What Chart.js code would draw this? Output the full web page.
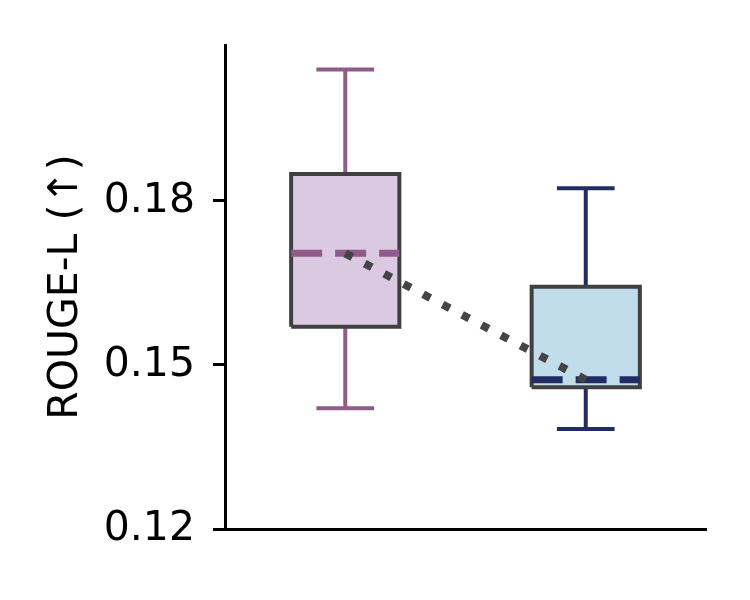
<!DOCTYPE html>
<html>
<head>
<meta charset="utf-8">
<script src="https://cdn.jsdelivr.net/npm/chart.js@4"></script>
<style>
  body { margin: 0; background: #fff; }
</style>
</head>
<body>
<canvas id="chart" width="750" height="600"></canvas>
<script>
// two methods, box plot stats
const groups = ["Method A", "Method B"];
const whiskerLow = [0.1421, 0.1383];
const boxLow = [0.1570, 0.1459];
const medians = [0.1704, 0.1473];
const boxHigh = [0.1849, 0.1643];
const whiskerHigh = [0.2040, 0.1823];
const yTicks = [0.12, 0.15, 0.18];

const lineColors = ["#8e5b8a", "#232c62"];
const fillColors = ["#dbc9e2", "#c1dcea"];
const edgeColor = "#404040";
const boxHalf = 0.225;
const capHalf = 0.12;

Chart.defaults.font.family = "'DejaVu Sans', sans-serif";
Chart.defaults.elements.point.radius = 0;
Chart.defaults.elements.point.hoverRadius = 0;

function seg(x1, y1, x2, y2) {
    return [{ x: x1, y: y1 }, { x: x2, y: y2 }];
}

const datasets = [];

// dotted line joining the medians
datasets.push({
    type: "line",
    data: groups.map((g, i) => ({ x: i, y: medians[i] })),
    borderColor: "#444444",
    borderWidth: 8,
    borderDash: [8, 14],
    fill: false,
    order: 0
});

groups.forEach(function(g, i) {
    // median, dashed
    datasets.push({
        type: "line",
        data: seg(i - boxHalf, medians[i], i + boxHalf, medians[i]),
        borderColor: lineColors[i],
        borderWidth: 7,
        borderDash: [31, 13],
        fill: false,
        order: 1
    });
    // box outline
    datasets.push({
        type: "line",
        data: [
            { x: i - boxHalf, y: boxLow[i] },
            { x: i + boxHalf, y: boxLow[i] },
            { x: i + boxHalf, y: boxHigh[i] },
            { x: i - boxHalf, y: boxHigh[i] },
            { x: i - boxHalf, y: boxLow[i] }
        ],
        borderColor: edgeColor,
        borderWidth: 4,
        borderJoinStyle: "miter",
        fill: false,
        order: 2
    });
    // whiskers and caps
    [
        seg(i, whiskerLow[i], i, boxLow[i]),
        seg(i, boxHigh[i], i, whiskerHigh[i]),
        seg(i - capHalf, whiskerLow[i], i + capHalf, whiskerLow[i]),
        seg(i - capHalf, whiskerHigh[i], i + capHalf, whiskerHigh[i])
    ].forEach(function(d) {
        datasets.push({
            type: "line",
            data: d,
            borderColor: lineColors[i],
            borderWidth: 4,
            fill: false,
            order: 3
        });
    });
});

// box fill
datasets.push({
    type: "bar",
    data: groups.map((g, i) => ({ x: i, y: [boxLow[i], boxHigh[i]] })),
    backgroundColor: fillColors,
    borderWidth: 0,
    barThickness: 108,
    order: 4
});

new Chart(document.getElementById("chart"), {
    type: "line",
    data: { datasets: datasets },
    options: {
        responsive: false,
        animation: false,
        devicePixelRatio: 1,
        layout: { padding: { top: 45, right: 44, bottom: 0, left: 0 } },
        plugins: {
            legend: { display: false },
            tooltip: { enabled: false }
        },
        scales: {
            x: {
                type: "linear",
                min: -0.5,
                max: 1.5,
                offset: false,
                ticks: { display: false },
                grid: { display: true, drawOnChartArea: false, drawTicks: false, offset: false },
                border: { display: true, color: "#000", width: 3 },
                afterFit: function(scale) { scale.height = 71; }
            },
            y: {
                min: 0.12,
                max: 0.2085,
                afterBuildTicks: function(scale) {
                    scale.ticks = yTicks.map(v => ({ value: v }));
                },
                ticks: {
                    color: "#000",
                    font: { size: 41 },
                    padding: 18,
                    autoSkip: false,
                    callback: v => v.toFixed(2)
                },
                grid: {
                    drawOnChartArea: false,
                    drawTicks: true,
                    tickLength: 12,
                    tickWidth: 3,
                    tickColor: "#000"
                },
                border: { display: true, color: "#000", width: 3 },
                title: {
                    display: true,
                    text: "ROUGE-L (↑)",
                    color: "#000",
                    font: { size: 41 },
                    padding: { top: 42, bottom: 0 }
                },
                afterFit: function(scale) { scale.width = 225; }
            }
        }
    }
});
</script>
</body>
</html>
